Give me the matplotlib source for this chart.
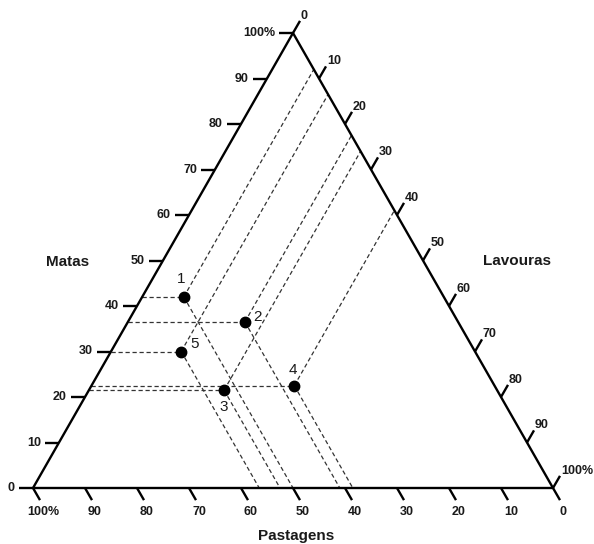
import matplotlib
matplotlib.use("Agg")
import matplotlib.pyplot as plt
import numpy as np

plt.rcParams['font.family'] = ['Liberation Sans', 'DejaVu Sans']

# Data (percent)
point_labels = ["1", "2", "3", "4", "5"]
matas = [42.0, 36.5, 21.5, 22.5, 30.0]
lavouras = [8.0, 22.5, 26.0, 39.0, 13.5]
pastagens = [50.0, 41.0, 52.5, 38.5, 56.5]
tick_values = [0, 10, 20, 30, 40, 50, 60, 70, 80, 90, 100]

H = 0.875  # triangle height relative to base
PX = 1 / 520.0  # one pixel in data units


def tern(m, l):
    m = np.asarray(m) / 100.0
    l = np.asarray(l) / 100.0
    return l + 0.5 * m, m * H


fig = plt.figure(figsize=(5.94, 5.44), dpi=100)
ax = fig.add_axes([0, 0, 1, 1])
ax.set_xlim(-33 * PX, (594 - 33) * PX)
ax.set_ylim(-(544 - 488) * PX, 488 * PX)
ax.axis('off')

# triangle
tri_x = [0, 1, 0.5, 0]
tri_y = [0, 0, H, 0]
ax.plot(tri_x, tri_y, color='black', lw=1.7, solid_capstyle='butt', zorder=3)

tick_len = 14 * PX
lab_kw = dict(fontsize=9, fontweight='bold', color='#1a1a1a')

def tl(v):
    return "100%" if v == 100 else str(v)

# Left axis (Matas)
for v in tick_values:
    x0, y0 = tern(v, 0)
    ax.plot([x0 - tick_len, x0], [y0, y0], color='black', lw=1.7, solid_capstyle='butt')
    ax.text(x0 - tick_len - 4 * PX, y0, tl(v), ha='right', va='center', **lab_kw)

# Bottom axis (Pastagens): P=100 at left
d_down = np.array([0.5, -0.866])
for v in tick_values:
    x0, y0 = 1 - v / 100.0, 0.0
    ax.plot([x0, x0 + d_down[0] * tick_len], [y0, y0 + d_down[1] * tick_len],
            color='black', lw=1.7, solid_capstyle='butt')
    ax.text(x0 + 10 * PX, y0 - 24 * PX, tl(v), ha='center', va='center', **lab_kw)

# Right axis (Lavouras): 0 at top
d_up = np.array([0.5, 0.866])
for v in tick_values:
    x0, y0 = tern(100 - v, v)
    x1, y1 = x0 + d_up[0] * tick_len, y0 + d_up[1] * tick_len
    ax.plot([x0, x1], [y0, y1], color='black', lw=1.7, solid_capstyle='butt')
    ax.text(x1 + 1 * PX, y1 - 1 * PX, tl(v), ha='left', va='bottom', **lab_kw)

# Dashed guide lines and points
label_off = {"1": (-3, 18), "2": (13, 5), "3": (0, -17), "4": (-1, 16), "5": (13, 7)}
dash = dict(color='#333333', lw=0.9, dashes=(3.4, 2.2))
for lab, m, l, p in zip(point_labels, matas, lavouras, pastagens):
    x, y = tern(m, l)
    # horizontal to left axis (Matas)
    xl, yl = tern(m, 0)
    ax.plot([xl, x], [yl, y], **dash)
    # down-right to bottom axis (Pastagens)
    ax.plot([x, 1 - p / 100.0], [y, 0], **dash)
    # up-right to right axis (Lavouras)
    xr, yr = tern(100 - l, l)
    ax.plot([x, xr], [y, yr], **dash)
    ax.plot([x], [y], 'o', color='black', markersize=7.5, zorder=5)
    dx, dy = label_off[lab]
    ax.text(x + dx * PX, y + dy * PX, lab, ha='center', va='center',
            fontsize=11, color='#1a1a1a')

title_kw = dict(fontsize=11, fontweight='bold', color='#1a1a1a', ha='center', va='center')
ax.text((68 - 33) * PX, (488 - 262) * PX, "Matas", **title_kw)
ax.text((517 - 33) * PX, (488 - 261) * PX, "Lavouras", **title_kw)
ax.text((296 - 33) * PX, (488 - 536) * PX, "Pastagens", **title_kw)

fig.savefig("out.png", dpi=100, facecolor='white')
